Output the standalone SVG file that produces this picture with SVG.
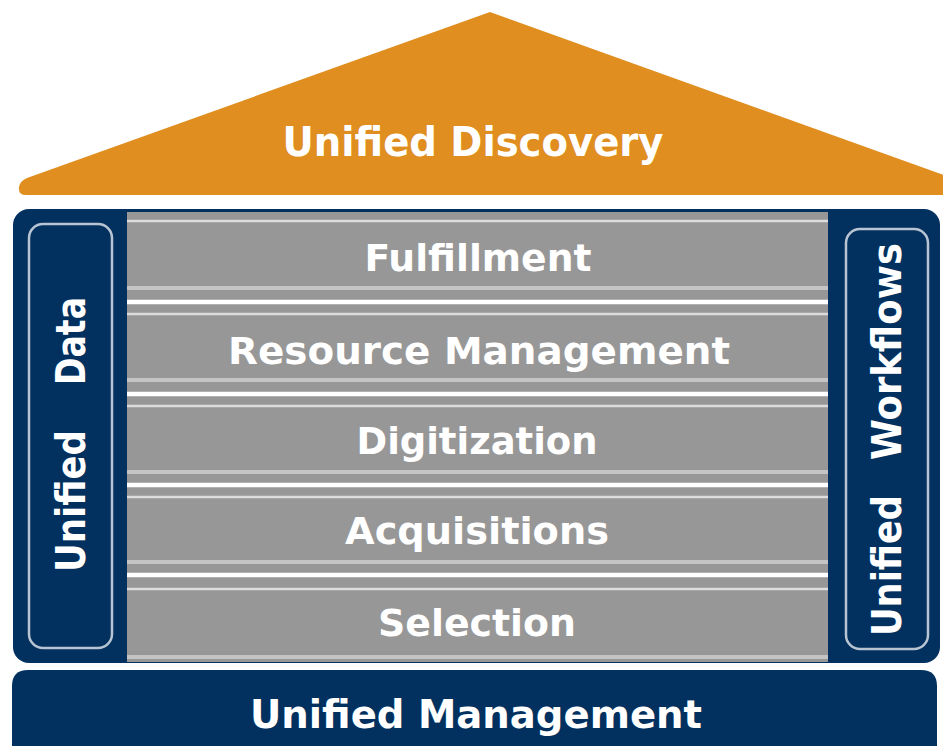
<svg xmlns="http://www.w3.org/2000/svg" width="943" height="746" viewBox="0 0 943 746">
  <style>
    .lbl { font-family: "DejaVu Sans", Verdana, sans-serif; font-weight: bold; fill: #ffffff; }
    .navy { fill: #02315f; }
    .inner { fill: none; stroke: #b9c4d2; stroke-width: 2.5; }
    .lightA { stroke: #c4c4c4; stroke-width: 4; }
    .lightB { stroke: #dcdcdc; stroke-width: 2.5; }
    .white { stroke: #ffffff; stroke-width: 4.5; }
  </style>
  <rect width="943" height="746" fill="#ffffff"/>

  <g id="roof">
    <path d="M490 12 L955 179 Q963 184 962 195 L26 195 Q18 195 19 187 Q20 181 27 178 Z" fill="#e08e20"/>
    <text class="lbl" x="473" y="156" font-size="40" text-anchor="middle" textLength="381" lengthAdjust="spacingAndGlyphs">Unified Discovery</text>
  </g>

  <g id="body">
    <rect class="navy" x="13" y="209" width="927" height="454" rx="16"/>
    <rect x="127" y="212" width="701" height="450" fill="#979797"/>
  </g>

  <g id="layers">
    <g id="separators">
      <line class="lightB" x1="127" y1="221" x2="828" y2="221"/>
      <line class="lightA" x1="127" y1="288" x2="828" y2="288"/>
      <line class="white" x1="127" y1="302" x2="828" y2="302"/>
      <line class="lightB" x1="127" y1="314" x2="828" y2="314"/>
      <line class="lightA" x1="127" y1="380" x2="828" y2="380"/>
      <line class="white" x1="127" y1="394" x2="828" y2="394"/>
      <line class="lightB" x1="127" y1="406" x2="828" y2="406"/>
      <line class="lightA" x1="127" y1="472" x2="828" y2="472"/>
      <line class="white" x1="127" y1="485" x2="828" y2="485"/>
      <line class="lightB" x1="127" y1="497" x2="828" y2="497"/>
      <line class="lightA" x1="127" y1="562" x2="828" y2="562"/>
      <line class="white" x1="127" y1="575" x2="828" y2="575"/>
      <line class="lightB" x1="127" y1="589" x2="828" y2="589"/>
      <line class="lightA" x1="127" y1="657" x2="828" y2="657"/>
    </g>
    <g id="fulfillment">
      <text class="lbl" x="478" y="271" font-size="38" text-anchor="middle" textLength="227" lengthAdjust="spacingAndGlyphs">Fulfillment</text>
    </g>
    <g id="resource-management">
      <text class="lbl" x="479" y="364" font-size="38" text-anchor="middle" textLength="502" lengthAdjust="spacingAndGlyphs">Resource Management</text>
    </g>
    <g id="digitization">
      <text class="lbl" x="477" y="454" font-size="38" text-anchor="middle" textLength="241" lengthAdjust="spacingAndGlyphs">Digitization</text>
    </g>
    <g id="acquisitions">
      <text class="lbl" x="477" y="544" font-size="38" text-anchor="middle" textLength="264" lengthAdjust="spacingAndGlyphs">Acquisitions</text>
    </g>
    <g id="selection">
      <text class="lbl" x="477" y="636" font-size="38" text-anchor="middle" textLength="198" lengthAdjust="spacingAndGlyphs">Selection</text>
    </g>
  </g>

  <g id="unified-data">
    <rect class="inner" x="29" y="224" width="83" height="424" rx="14"/>
    <text class="lbl" font-size="40" transform="translate(85,572) rotate(-90)"><tspan x="0" textLength="142" lengthAdjust="spacingAndGlyphs">Unified</tspan> <tspan x="187" textLength="88" lengthAdjust="spacingAndGlyphs">Data</tspan></text>
  </g>

  <g id="unified-workflows">
    <rect class="inner" x="846" y="229" width="82" height="420" rx="14"/>
    <text class="lbl" font-size="40" transform="translate(901,636) rotate(-90)"><tspan x="0" textLength="141" lengthAdjust="spacingAndGlyphs">Unified</tspan> <tspan x="176" textLength="217" lengthAdjust="spacingAndGlyphs">Workflows</tspan></text>
  </g>

  <g id="unified-management">
    <path class="navy" d="M12 686 Q12 670 28 670 L921 670 Q937 670 937 686 L937 746 L12 746 Z"/>
    <text class="lbl" x="476" y="728" font-size="39" text-anchor="middle" textLength="452" lengthAdjust="spacingAndGlyphs">Unified Management</text>
  </g>

  <g id="connectors"></g>
</svg>
